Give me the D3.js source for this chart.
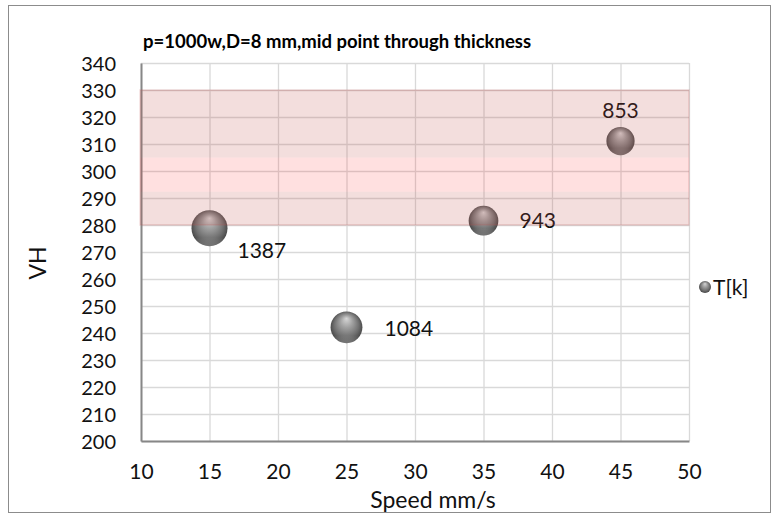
<!DOCTYPE html>
<html>
<head>
<meta charset="utf-8">
<script src="https://cdn.jsdelivr.net/npm/d3@7/dist/d3.min.js"></script>
<style>
  html, body { margin: 0; padding: 0; background: #fff; }
  text { font-family: Lato, "Open Sans", sans-serif; }
</style>
</head>
<body>
<svg id="chart" width="776" height="514"></svg>
<script>
// Welding trials: hardness at mid-thickness vs travel speed, bubble size = peak temperature
const speeds = [15, 25, 35, 45];
const hardness = [278.8, 242.1, 281.6, 311.1];
const temps = [1387, 1084, 943, 853];
const xTicks = [10, 15, 20, 25, 30, 35, 40, 45, 50];
const yTicks = [200, 210, 220, 230, 240, 250, 260, 270, 280, 290, 300, 310, 320, 330, 340];
const bandRange = [280, 330];      // acceptance band
const bandCore = [292.3, 305];     // lighter centre stripe
const titleText = "p=1000w,D=8 mm,mid point through thickness";
const seriesName = "T[k]";

const svg = d3.select("#chart");
const plot = { left: 141, right: 689, top: 63, bottom: 441 };

// outer chart frame
svg.append("rect").attr("x", 8.5).attr("y", 5.5).attr("width", 762).attr("height", 507)
  .attr("fill", "#fff").attr("stroke", "#8c8c8c").attr("stroke-width", 1);

const x = d3.scaleLinear().domain([10, 50]).range([plot.left, plot.right]);
const y = d3.scaleLinear().domain([200, 340]).range([plot.bottom, plot.top]);
const r = d3.scaleSqrt().domain([0, d3.max(temps)]).range([0, 18]);

// sphere shading
const defs = svg.append("defs");
const grad = defs.append("radialGradient").attr("id", "sphere")
  .attr("cx", "50%").attr("cy", "50%").attr("r", "55%")
  .attr("fx", "50%").attr("fy", "22%");
grad.append("stop").attr("offset", "0%").attr("stop-color", "#d6d6d6");
grad.append("stop").attr("offset", "35%").attr("stop-color", "#a0a0a0");
grad.append("stop").attr("offset", "70%").attr("stop-color", "#707070");
grad.append("stop").attr("offset", "92%").attr("stop-color", "#4a4a4a");
grad.append("stop").attr("offset", "100%").attr("stop-color", "#3a3a3a");
const rim = defs.append("linearGradient").attr("id", "rim")
  .attr("x1", 0).attr("y1", 0).attr("x2", 0).attr("y2", 1);
rim.append("stop").attr("offset", "0%").attr("stop-color", "#fff").attr("stop-opacity", 0);
rim.append("stop").attr("offset", "75%").attr("stop-color", "#fff").attr("stop-opacity", 0);
rim.append("stop").attr("offset", "100%").attr("stop-color", "#fff").attr("stop-opacity", 0.25);

// gridlines
const grid = svg.append("g");
grid.selectAll("line.h").data(yTicks).join("line")
  .attr("x1", plot.left).attr("x2", plot.right)
  .attr("y1", d => y(d) + 0.5).attr("y2", d => y(d) + 0.5)
  .attr("stroke", "#d9d9d9").attr("stroke-width", 1.3);
grid.selectAll("line.v").data(xTicks).join("line")
  .attr("y1", plot.top).attr("y2", plot.bottom)
  .attr("x1", d => x(d) + 0.5).attr("x2", d => x(d) + 0.5)
  .attr("stroke", "#d9d9d9").attr("stroke-width", 1.3);

// axes
const xAxis = d3.axisBottom(x).tickValues(xTicks).tickSize(0).tickPadding(23);
const yAxis = d3.axisLeft(y).tickValues(yTicks).tickSize(0).tickPadding(25);
const gx = svg.append("g").attr("transform", `translate(0,${plot.bottom})`).call(xAxis);
const gy = svg.append("g").attr("transform", `translate(${plot.left},0)`).call(yAxis);
[gx, gy].forEach(g => {
  g.select(".domain").attr("stroke", "#878787").attr("stroke-width", 2);
  g.selectAll("text").attr("fill", "#111").attr("font-family", "Lato, sans-serif");
});
gx.selectAll("text").attr("font-size", 21);
gy.selectAll("text").attr("font-size", 20).attr("dy", "0.36em");

// bubbles
const pts = speeds.map((s, i) => ({ s, h: hardness[i], t: temps[i] }));
const bub = svg.append("g");
bub.selectAll("circle.b").data(pts).join("circle")
  .attr("cx", d => x(d.s)).attr("cy", d => y(d.h)).attr("r", d => r(d.t))
  .attr("fill", "url(#sphere)");
bub.selectAll("circle.rim").data(pts).join("circle")
  .attr("cx", d => x(d.s)).attr("cy", d => y(d.h)).attr("r", d => r(d.t))
  .attr("fill", "url(#rim)");

// value labels (placement nudges relative to each bubble)
const nudge = [[28, 30, "start"], [38, 9, "start"], [36, 7, "start"], [0, -23, "middle"]];
svg.append("g").selectAll("text").data(pts).join("text")
  .attr("x", (d, i) => x(d.s) + nudge[i][0])
  .attr("y", (d, i) => y(d.h) + nudge[i][1])
  .attr("text-anchor", (d, i) => nudge[i][2])
  .attr("font-size", 21).attr("fill", "#111")
  .text(d => d.t);

// translucent acceptance band laid over the plot: outer parts greyish pink, centre stripe clearer pink
const band = svg.append("g");
const bandParts = [
  { lo: bandRange[0], hi: bandCore[0], fill: "rgb(192,80,77)", op: 0.19 },
  { lo: bandCore[0], hi: bandCore[1], fill: "rgb(255,0,0)", op: 0.12 },
  { lo: bandCore[1], hi: bandRange[1], fill: "rgb(192,80,77)", op: 0.19 }
];
band.selectAll("rect.part").data(bandParts).join("rect")
  .attr("x", plot.left - 1).attr("width", plot.right - plot.left + 1)
  .attr("y", d => y(d.hi)).attr("height", d => y(d.lo) - y(d.hi))
  .attr("fill", d => d.fill).attr("fill-opacity", d => d.op);
band.append("rect")
  .attr("x", plot.left - 1).attr("width", plot.right - plot.left + 1)
  .attr("y", y(bandRange[1])).attr("height", y(bandRange[0]) - y(bandRange[1]))
  .attr("fill", "none")
  .attr("stroke", "rgb(192,80,77)").attr("stroke-opacity", 0.18).attr("stroke-width", 1.5);

// title
svg.append("text").attr("x", 337).attr("y", 48).attr("text-anchor", "middle")
  .attr("font-size", 18.5).attr("font-weight", "bold").attr("fill", "#000")
  .text(titleText);

// axis titles
svg.append("text").attr("x", 433).attr("y", 508).attr("text-anchor", "middle")
  .attr("font-size", 23).attr("fill", "#111").text("Speed mm/s");
svg.append("text").attr("transform", "translate(46,263) rotate(-90)")
  .attr("text-anchor", "middle").attr("font-size", 23).attr("fill", "#111").text("VH");

// legend
const lg = svg.append("g").attr("transform", "translate(705,287)");
lg.append("circle").attr("r", 6).attr("fill", "url(#sphere)");
lg.append("text").attr("x", 8).attr("y", 8).attr("font-size", 21).attr("fill", "#111").text(seriesName);
</script>
</body>
</html>
